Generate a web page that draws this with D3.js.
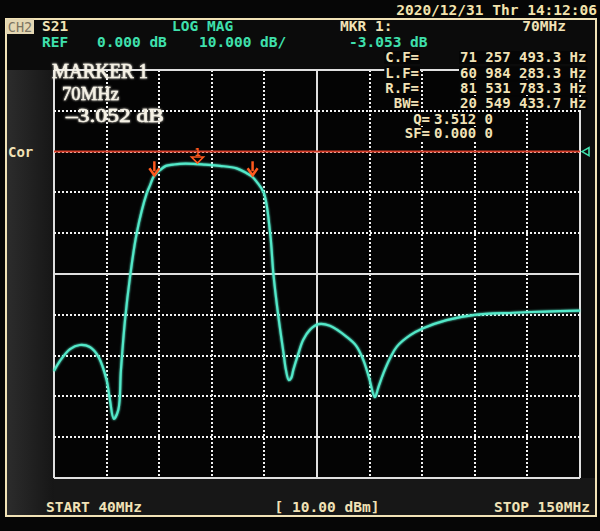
<!DOCTYPE html>
<html><head><meta charset="utf-8">
<script src="https://cdn.jsdelivr.net/npm/d3@7"></script>
<style>
html,body{margin:0;padding:0;background:#050505;}
svg{display:block;}
</style></head>
<body>
<svg id="c" width="600" height="531"></svg>
<script>
// ---------- data ----------
const freqMHz = [40.0,41.25,43.35,45.4,47.5,49.3,51.0,51.7,52.5,53.45,54.0,54.85,55.9,57.3,59.4,60.1,60.9,62.2,63.4,64.9,66.35,69.1,71.6,74.7,78.2,80.3,81.4,82.4,83.9,85.2,85.9,86.9,88.0,88.5,89.1,89.6,90.05,91.0,92.1,93.5,95.3,97.7,101.2,103.2,104.7,105.9,107.1,107.8,108.9,110.3,111.7,114.5,117.2,122.1,128.0,136.1,142.7,150.0];
const s21dB   = [-53.8,-51.3,-48.4,-47.4,-47.9,-50.3,-56.0,-60.9,-65.5,-63.3,-53.5,-41.3,-30.7,-20.0,-10.2,-8.2,-6.0,-4.5,-3.5,-3.2,-3.0,-3.0,-3.2,-3.5,-4.1,-5.3,-6.1,-7.4,-10.2,-20.0,-30.2,-40.2,-49.4,-53.5,-56.0,-55.5,-53.5,-49.9,-46.2,-43.7,-42.3,-42.7,-45.4,-47.6,-51.1,-55.5,-60.2,-57.9,-54.3,-50.6,-47.8,-45.0,-43.3,-41.3,-40.0,-39.5,-39.2,-39.0];
const xGridMHz = [40,51,62,73,84,95,106,117,128,139,150];
const yGridDB  = [20,10,0,-10,-20,-30,-40,-50,-60,-70,-80];
const refDB = 0;
const marker1 = {f:70, db:-3.053};
const bwMarkers = [{f:60.984, db:-6.05},{f:81.531, db:-6.05}];
const headerTexts = ["S21","LOG MAG","REF","0.000 dB","10.000 dB/","MKR 1:","70MHz","-3.053 dB","2020/12/31 Thr 14:12:06"];
const tableLabels = ["C.F=","L.F=","R.F=","BW=","Q=","SF="];
const tableValues = ["71 257 493.3 Hz","60 984 283.3 Hz","81 531 783.3 Hz","20 549 433.7 Hz","3.512 0","0.000 0"];
const markerBox = ["MARKER 1","70MHz","\u20133.052 dB"];
const footTexts = ["START 40MHz","[ 10.00 dBm]","STOP 150MHz"];

// ---------- drawing ----------
const svg = d3.select("#c");
const L=54,R=580,T=70,B=478;
const x = d3.scaleLinear().domain([40,150]).range([L,R]);
const y = d3.scaleLinear().domain([20,-80]).range([T,B]);
const cream="#f1e2b6", teal="#3fe0ad", traceC="#52e8c8", mono="'DejaVu Sans Mono', 'Liberation Mono', monospace";

const defs = svg.append("defs");
const lg = defs.append("linearGradient").attr("id","lg").attr("x1",0).attr("x2",1);
lg.append("stop").attr("offset","0").attr("stop-color","#2c2c2c");
lg.append("stop").attr("offset","1").attr("stop-color","#161616");
const f = defs.append("filter").attr("id","glow").attr("x","-5%").attr("y","-5%").attr("width","110%").attr("height","110%");
f.append("feGaussianBlur").attr("stdDeviation",1.2).attr("result","b");
const fm=f.append("feMerge"); fm.append("feMergeNode").attr("in","b"); fm.append("feMergeNode").attr("in","SourceGraphic");
const f2 = defs.append("filter").attr("id","tglow").attr("x","-5%").attr("y","-20%").attr("width","110%").attr("height","140%");
f2.append("feGaussianBlur").attr("stdDeviation",0.8).attr("result","b");
const fm2=f2.append("feMerge"); fm2.append("feMergeNode").attr("in","b"); fm2.append("feMergeNode").attr("in","SourceGraphic");

svg.append("rect").attr("width",600).attr("height",531).attr("fill","#060606");
svg.append("rect").attr("x",6).attr("y",19).attr("width",590).attr("height",497).attr("fill","#0b0b0b");
svg.append("rect").attr("x",7).attr("y",T).attr("width",L-7).attr("height",B-T+38).attr("fill","url(#lg)");
svg.append("rect").attr("x",L).attr("y",B).attr("width",R-L+16).attr("height",38).attr("fill","#171717");
svg.append("rect").attr("x",L).attr("y",T).attr("width",R-L).attr("height",B-T).attr("fill","#040404");
svg.append("rect").attr("x",6).attr("y",19).attr("width",590).attr("height",497).attr("fill","none").attr("stroke",cream).attr("stroke-width",2);

// grid (snapped to whole pixels so the dots stay bright)
const g = svg.append("g").attr("shape-rendering","crispEdges");
xGridMHz.forEach((v,i)=>{
  const solid = (i===0||i===5||i===10);
  const px = Math.round(x(v));
  g.append("line").attr("x1",px).attr("x2",px).attr("y1",T).attr("y2",B)
   .attr("stroke",solid?"#e0e0e0":"#f2f2f2").attr("stroke-width",2)
   .attr("stroke-dasharray",solid?null:"2,2");
});
yGridDB.forEach((v,i)=>{
  const solid = (i===0||i===5||i===10);
  const py = Math.round(y(v));
  g.append("line").attr("x1",L).attr("x2",R).attr("y1",py).attr("y2",py)
   .attr("stroke",solid?"#e0e0e0":"#f2f2f2").attr("stroke-width",2)
   .attr("stroke-dasharray",solid?null:"2,2");
});

// reference line
svg.append("line").attr("x1",L).attr("x2",R).attr("y1",y(refDB)).attr("y2",y(refDB))
  .attr("stroke","#d8402c").attr("stroke-width",2);
svg.append("path").attr("d",`M${R+2},${y(refDB)} l7,-4 l0,8 z`).attr("fill","none").attr("stroke",teal).attr("stroke-width",1.6);
svg.append("text").attr("x",8).attr("y",y(refDB)+5).text("Cor").attr("fill",cream)
  .attr("font-family",mono).attr("font-weight","bold").attr("font-size",14);

// trace
const pts = freqMHz.map((fq,i)=>[fq,s21dB[i]]);
const line = d3.line().x(d=>x(d[0])).y(d=>y(d[1])).curve(d3.curveCatmullRom.alpha(0.5));
svg.append("path").attr("d",line(pts)).attr("fill","none").attr("stroke",traceC).attr("stroke-width",2.2).attr("filter","url(#glow)");

// markers
const orange="#ff5a1e";
bwMarkers.forEach(m=>{
  const mx=x(m.f), my=y(m.db)-1;
  svg.append("line").attr("x1",mx).attr("x2",mx).attr("y1",my-14).attr("y2",my-4).attr("stroke",orange).attr("stroke-width",2.5);
  svg.append("path").attr("d",`M${mx-5},${my-7} L${mx},${my} L${mx+5},${my-7}`).attr("fill","none").attr("stroke",orange).attr("stroke-width",2.5);
});
{
  const mx=x(marker1.f), my=y(marker1.db)-1;
  svg.append("path").attr("d",`M${mx-6},${my-6} L${mx+6},${my-6} L${mx},${my} z`).attr("fill","none").attr("stroke",orange).attr("stroke-width",1.6);
  svg.append("text").attr("x",mx).attr("y",my-7).attr("text-anchor","middle").text("1")
    .attr("fill",orange).attr("font-family",mono).attr("font-weight","bold").attr("font-size",10);
}

function mtext(str,xx,yy,col,anchor,size,bg){
  const t = svg.append("text").attr("x",xx).attr("y",yy).text(str).attr("fill",col)
    .attr("font-family",mono).attr("font-weight","bold").attr("font-size",size||14.5)
    .attr("text-anchor",anchor||"start");
  if(bg){
    const bb=t.node().getBBox();
    svg.insert("rect",()=>t.node()).attr("x",bb.x-1).attr("y",bb.y+2).attr("width",bb.width+2).attr("height",bb.height-3).attr("fill","#050505");
  }
  return t;
}
// CH2 box
svg.append("rect").attr("x",6).attr("y",19).attr("width",28).attr("height",15).attr("fill","#e4d7b3");
svg.append("text").attr("x",20).attr("y",31.5).attr("text-anchor","middle").text("CH2").attr("fill","#7d7562")
  .attr("font-family",mono).attr("font-size",13.5);
mtext(headerTexts[0],42,31,cream);
mtext(headerTexts[1],172,31,teal);
mtext(headerTexts[2],42,47,teal);
mtext(headerTexts[3],97,47,teal);
mtext(headerTexts[4],199,47,teal);
mtext(headerTexts[5],340,31,cream);
mtext(headerTexts[6],566,31,cream,"end");
mtext(headerTexts[7],349,47,teal);
mtext(headerTexts[8],597,15,"#f3e3ad","end");

// table
const rowY=[62,77.5,93,108,123.5,138];
tableLabels.forEach((lab,i)=>{
  mtext(lab,i<4?419:430,rowY[i],cream,"end",14,true);
  mtext(tableValues[i],i<4?460:434,rowY[i],cream,"start",14,true);
});

// marker box (serif)
markerBox.forEach((s,i)=>{
  svg.append("text").attr("x",i===0?52:(i===1?62:66)).attr("y",[78,100,122][i]).text(s)
    .attr("fill","#f6f2e6").attr("stroke","#f6f2e6").attr("stroke-width",0.5)
    .attr("font-family","'Liberation Serif','DejaVu Serif',serif").attr("filter","url(#tglow)")
    .attr("font-size",i===0?20:19).attr("textLength",[96,57,98][i]).attr("lengthAdjust","spacingAndGlyphs");
});

// footer
mtext(footTexts[0],46,512,cream);
mtext(footTexts[1],327,512,cream,"middle");
mtext(footTexts[2],590,512,cream,"end");
</script>
</body></html>
